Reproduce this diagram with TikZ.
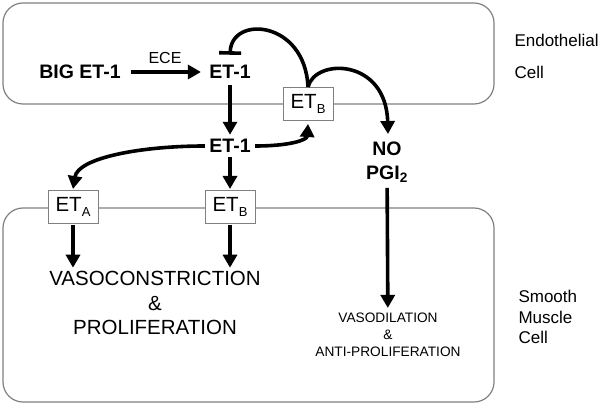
\documentclass[tikz,border=0pt]{standalone}
\usepackage{fontspec}
\setmainfont{Liberation Sans}
\usetikzlibrary{arrows.meta}

\begin{document}
\begin{tikzpicture}[x=1pt, y=-1pt,
    cell/.style={draw=black!50, line width=1.2pt, rounded corners=20pt},
    receptor/.style={draw=black!50, line width=1pt, fill=white, minimum width=50pt,
        minimum height=33pt, inner sep=0pt, font=\fontsize{20.5}{22}\selectfont},
    flow/.style={line width=3.6pt, -{Triangle[length=13pt,width=14pt]}},
    block/.style={line width=3.6pt, -{Bar[width=22pt,line width=3.6pt]}},
    big/.style={font=\bfseries\fontsize{19.5}{24}\selectfont},
    side/.style={anchor=west, align=left, font=\fontsize{17}{20.5}\selectfont}]

    % Fix the page size
    \useasboundingbox (0,0) rectangle (600,406);

    % Draw the two cells
    \draw[cell] (3,3) rectangle (494,104);
    \draw[cell] (3,208) rectangle (494,402);

    % Cell names on the right
    \node[side] (endo) at (511,40) {Endothelial};
    \node[side] (endocell) at (511,72) {Cell};
    \node[side] (smc) at (515,317) {Smooth\\Muscle\\Cell};

    % Peptides
    \node[big] (bigET) at (80,72) {BIG ET-1};
    \node[big] (et1top) at (230,72) {ET-1};
    \node[big] (et1mid) at (230,146) {ET-1};
    \node[big, align=center] (nopgi) at (387,162) {NO\\PGI\textsubscript{2}};

    % Receptors on the cell borders
    \node[receptor] (etbEndo) at (308,104) {ET\raisebox{-0.45ex}{\fontsize{13}{13}\selectfont B}};
    \node[receptor] (etaSmc) at (73,207) {ET\raisebox{-0.45ex}{\fontsize{13}{13}\selectfont A}};
    \node[receptor] (etbSmc) at (230,207) {ET\raisebox{-0.45ex}{\fontsize{13}{13}\selectfont B}};

    % Effects in the smooth muscle cell
    \node[align=center, font=\fontsize{20.5}{24.5}\selectfont] (vaso) at (155,303)
        {VASOCONSTRICTION\\\&\\PROLIFERATION};
    \node[align=center, inner sep=1pt, font=\fontsize{13.7}{17}\selectfont] (dila) at (388,335)
        {VASODILATION\\\&\\ANTI-PROLIFERATION};

    % Conversion by ECE
    \draw[flow, shorten <=7pt, shorten >=5pt] (bigET) -- node[above=3pt, font=\fontsize{16}{18}\selectfont] (ece) {ECE} (et1top);

    % Release and receptor binding
    \draw[flow, shorten <=3pt, shorten >=1pt] (et1top) -- (et1mid);
    \draw[flow, shorten <=1pt, shorten >=1pt] (et1mid) -- (etbSmc);
    \draw[flow, shorten <=1pt] (et1mid.east) .. controls (290,146) and (307,140) .. ([yshift=-3pt]etbEndo.south);
    \draw[flow, shorten <=1pt] (et1mid.west) .. controls (140,146) and (78,158) .. ([yshift=1pt]etaSmc.north);

    % Feedback from the endothelial ET_B
    \draw[block, shorten >=7pt] (etbEndo.north) .. controls (305,20) and (231,15) .. (et1top.north);
    \draw[flow] (etbEndo.north) .. controls (315,58) and (386,58) .. (388,134);

    % Responses
    \draw[flow, shorten <=1pt] (etaSmc.south) -- (etaSmc.south |- vaso.north);
    \draw[flow, shorten <=1pt] (etbSmc.south) -- (etbSmc.south |- vaso.north);
    \draw[flow, shorten <=2pt, shorten >=4pt] (nopgi) -- (dila);
\end{tikzpicture}
\end{document}
